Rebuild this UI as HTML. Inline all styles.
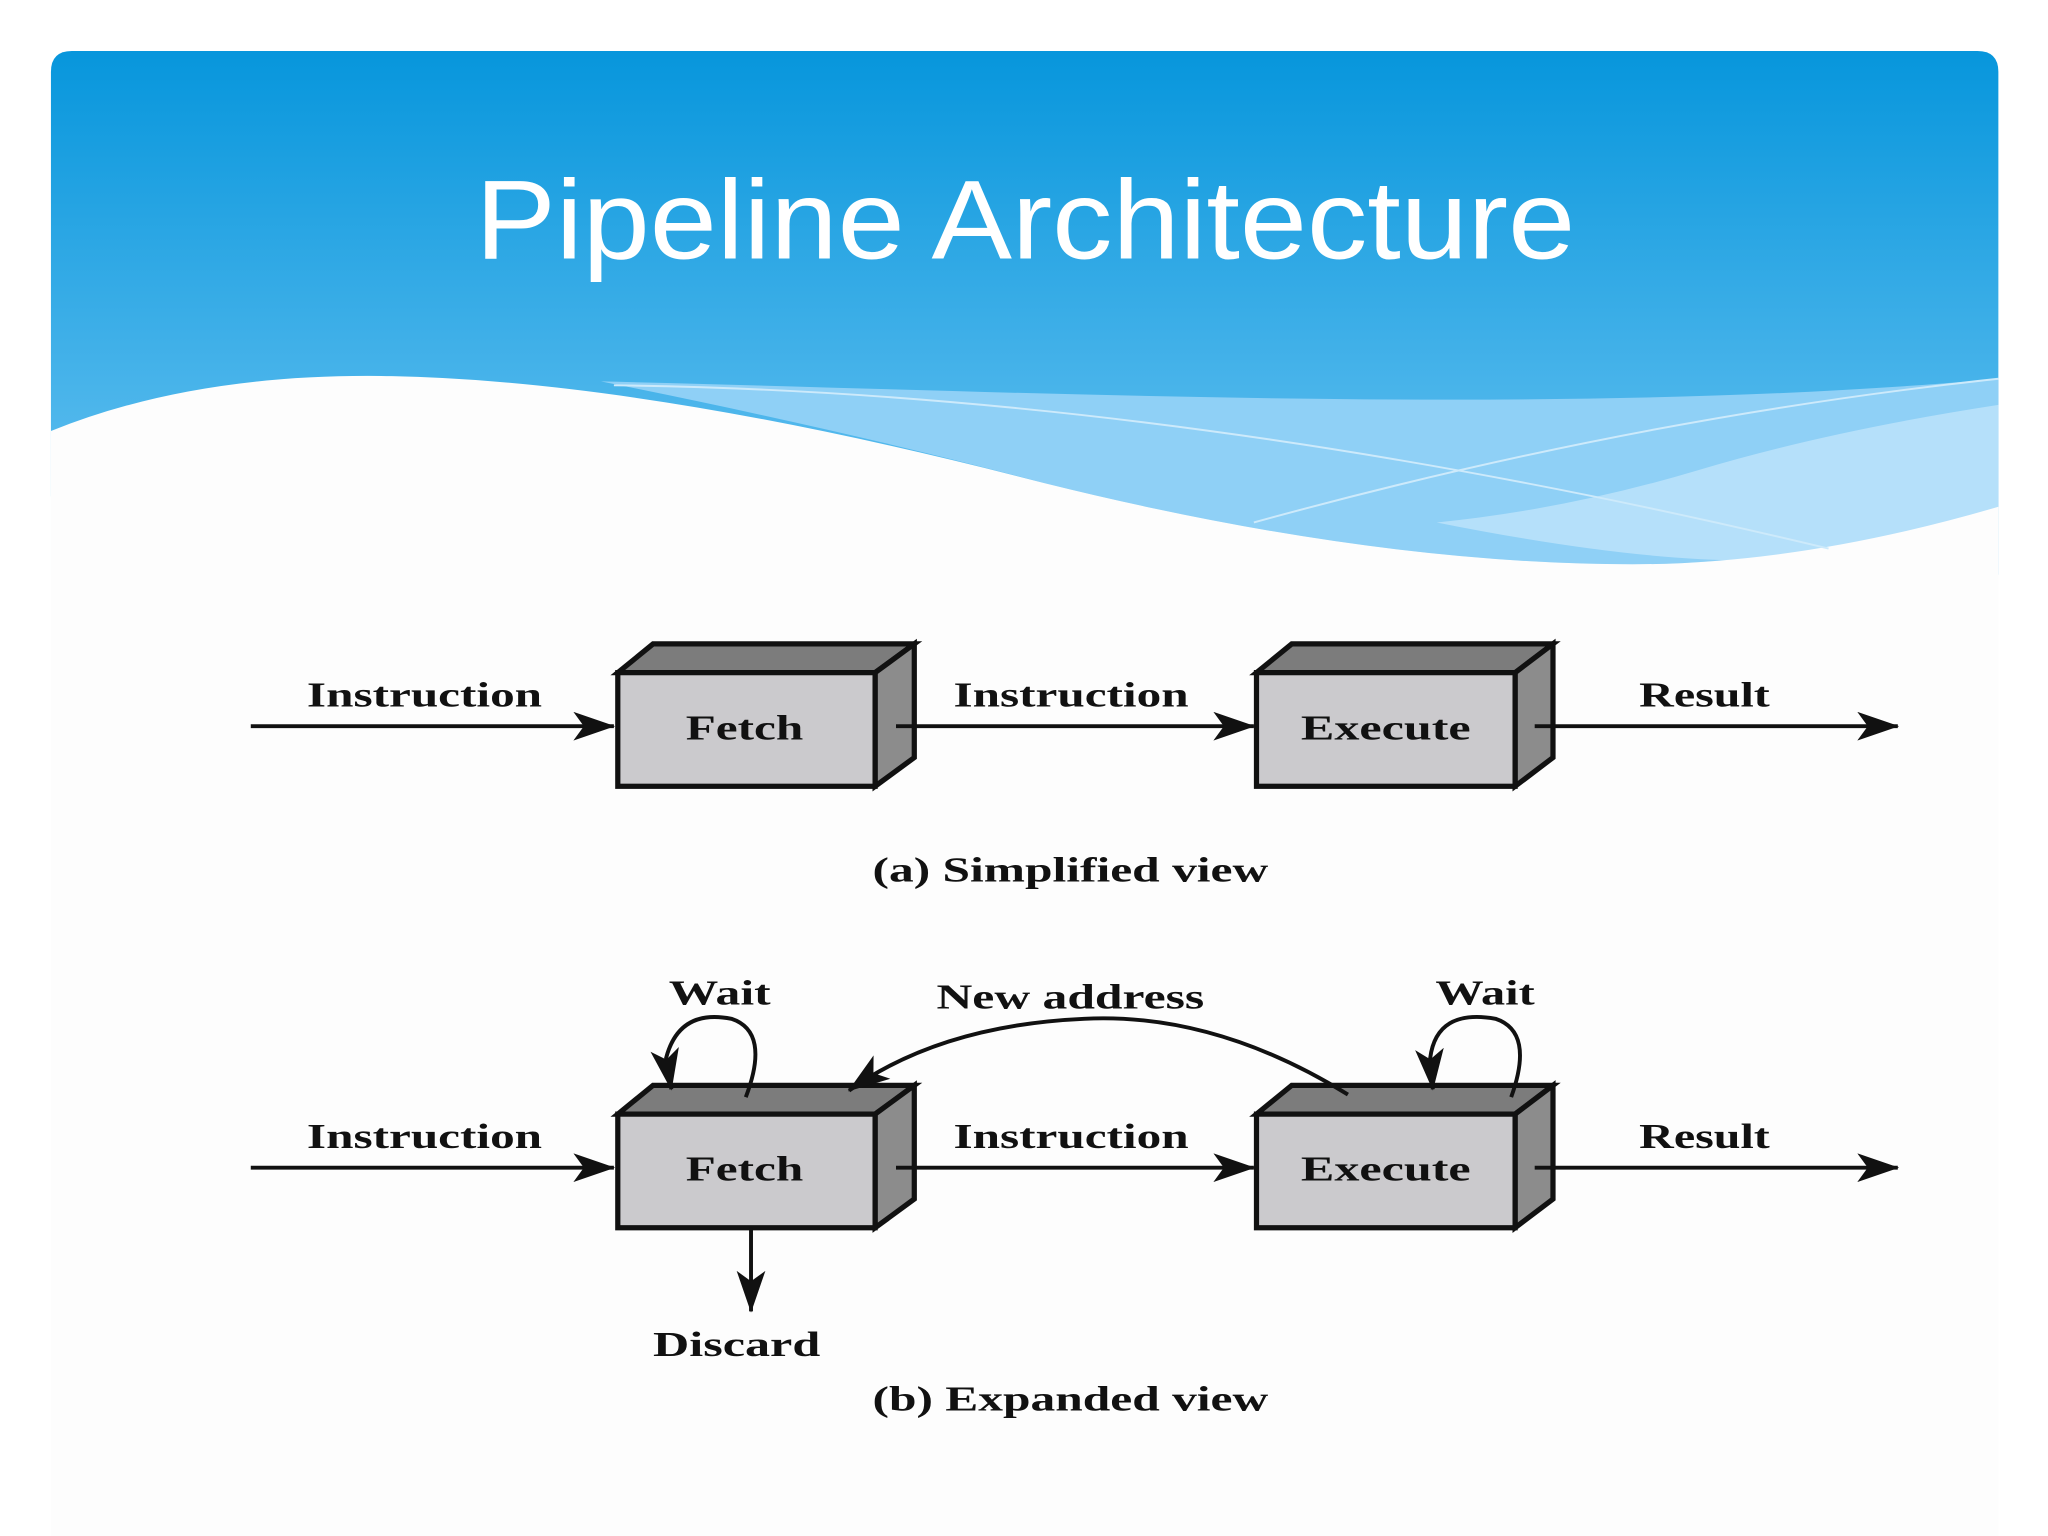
<!DOCTYPE html>
<html><head><meta charset="utf-8"><style>
html,body{margin:0;padding:0;background:#fff;}
svg{display:block;}
.t{font-family:"Liberation Serif",serif;font-weight:bold;font-size:27px;fill:#111;}
</style></head><body>
<svg width="2048" height="1536" viewBox="0 0 1568 1176" xmlns="http://www.w3.org/2000/svg">
<defs>
<linearGradient id="bg" x1="0" y1="0" x2="0" y2="1">
<stop offset="0" stop-color="#0796dc"/><stop offset="1" stop-color="#6cc4f2"/>
</linearGradient>
<marker id="ah" viewBox="0 0 32 22" refX="31" refY="11" markerWidth="32" markerHeight="22" markerUnits="userSpaceOnUse" orient="auto">
<path d="M0,0 L32,11 L0,22 L8,11 z" fill="#111"/></marker>
</defs>
<rect width="1568" height="1176" fill="#fff"/>
<path d="M39,55 Q39,39 55,39 L1514,39 Q1530,39 1530,55 L1530,440 L39,440 Z" fill="url(#bg)"/>
<path d="M460,292 C800,300 1200,320 1530,290 L1530,390 Q1380,432 1250,432 Q1050,432 800,370 Q650,330 460,292 Z" fill="#8fd0f6"/>
<path d="M1530,310 Q1400,330 1300,360 Q1200,390 1100,400 Q1300,440 1400,425 Q1480,410 1530,388 Z" fill="#b5e0fa"/>
<path d="M39,330 Q150,285 300,288 Q500,292 800,370 Q1050,432 1250,432 Q1380,432 1530,388 L1530,1176 L39,1176 Z" fill="#fdfdfd"/>
<rect x="0" y="380" width="39" height="80" fill="#fff"/>
<path d="M470,295 Q900,300 1400,420" stroke="#cdeafb" stroke-width="1.5" fill="none"/>
<path d="M960,400 Q1250,320 1530,290" stroke="#cdeafb" stroke-width="1.5" fill="none"/>
<text x="785" y="198" text-anchor="middle" font-family="Liberation Sans, DejaVu Sans, sans-serif" font-size="86" fill="#fff" textLength="842" lengthAdjust="spacingAndGlyphs">Pipeline Architecture</text>

<g id="a">
<g stroke="#111" stroke-width="4" stroke-linejoin="miter">
<polygon points="473,515 500,493 700,493 670,515" fill="#7c7c7c"/>
<polygon points="670,515 700,493 700,580 670,602" fill="#8c8c8c"/>
<rect x="473" y="515" width="197" height="87" fill="#cbcacd"/>
<polygon points="962,515 989,493 1189,493 1160,515" fill="#7c7c7c"/>
<polygon points="1160,515 1189,493 1189,580 1160,602" fill="#8c8c8c"/>
<rect x="962" y="515" width="198" height="87" fill="#cbcacd"/>
</g>
<g stroke="#111" stroke-width="3" marker-end="url(#ah)">
<line x1="192" y1="556" x2="470" y2="556"/>
<line x1="686" y1="556" x2="960" y2="556"/>
<line x1="1175" y1="556" x2="1453" y2="556"/>
</g>
<text class="t" x="235" y="541" textLength="180" lengthAdjust="spacingAndGlyphs">Instruction</text>
<text class="t" x="730" y="541" textLength="180" lengthAdjust="spacingAndGlyphs">Instruction</text>
<text class="t" x="1255" y="541" textLength="100" lengthAdjust="spacingAndGlyphs">Result</text>
<text class="t" x="525" y="566" textLength="90" lengthAdjust="spacingAndGlyphs">Fetch</text>
<text class="t" x="996" y="566" textLength="130" lengthAdjust="spacingAndGlyphs">Execute</text>
</g>
<text class="t" x="668" y="675" textLength="303" lengthAdjust="spacingAndGlyphs">(a) Simplified view</text>
<use href="#a" transform="translate(0,338)"/>
<g stroke="#111" stroke-width="3" fill="none">
<path d="M571,840 Q590,790 560,780 Q520,772 510,810 L514,834" marker-end="url(#ah)"/>
<path d="M1157,840 Q1175,790 1145,780 Q1100,772 1095,810 L1097,834" marker-end="url(#ah)"/>
<path d="M1032,838 Q930,775 830,780 Q720,785 650,835" marker-end="url(#ah)"/>
<line x1="575" y1="940" x2="575" y2="1004" marker-end="url(#ah)"/>
</g>
<text class="t" x="512" y="769" textLength="78" lengthAdjust="spacingAndGlyphs">Wait</text>
<text class="t" x="1099" y="769" textLength="76" lengthAdjust="spacingAndGlyphs">Wait</text>
<text class="t" x="717" y="772" textLength="205" lengthAdjust="spacingAndGlyphs">New address</text>
<text class="t" x="500" y="1038" textLength="128" lengthAdjust="spacingAndGlyphs">Discard</text>
<text class="t" x="668" y="1080" textLength="303" lengthAdjust="spacingAndGlyphs">(b) Expanded view</text>
</svg>
</body></html>
